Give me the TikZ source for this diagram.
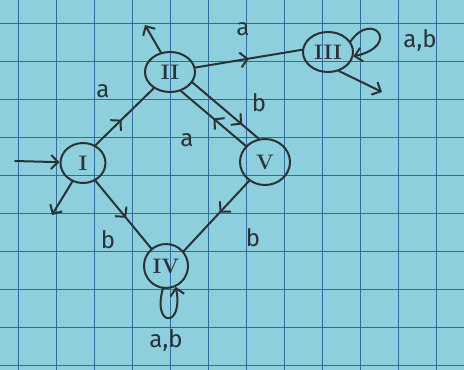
\documentclass[tikz,border=0pt]{standalone}
\usepackage{fontspec}
\newfontfamily\handfont{Fira Sans}
\usetikzlibrary{shapes.geometric,arrows.meta,decorations.markings}
\definecolor{paper}{HTML}{8DCFDD}
\definecolor{gridc}{HTML}{2F6D9E}
\definecolor{ink}{HTML}{2B3236}
\tikzset{
  ink/.style={draw=ink,line width=2pt,line cap=round,line join=round},
  state/.style={ellipse,ink,inner sep=0pt,font=\fontsize{21}{23}\selectfont\bfseries,text=ink},
  lab/.style={font=\handfont\fontsize{24}{26}\selectfont,text=ink,inner sep=0pt},
  tip/.style={-{Straight Barb[length=7pt,width=14pt,line width=2pt]}},
  midarrow/.style={postaction={decorate,decoration={markings,
      mark=at position #1 with {\arrow[ink,line width=2pt]{Straight Barb[length=7pt,width=15pt]}}}}}
}
\begin{document}
\begin{tikzpicture}[x=1pt,y=-1pt]
\useasboundingbox (0,0) rectangle (464,370);
\fill[paper] (0,0) rectangle (464,370);
\foreach \k in {0,...,11} {\draw[gridc,line width=1pt] (18+38*\k,0) -- (18+38*\k,370);}
\foreach \k in {0,...,9} {\draw[gridc,line width=1pt] (0,23.5+38*\k) -- (464,23.5+38*\k);}

\node[state,minimum width=45pt,minimum height=40pt] (I) at (83,163) {I};
\node[state,minimum width=50pt,minimum height=40pt] (II) at (170,72) {II};
\node[state,minimum width=50pt,minimum height=40pt] (III) at (328,52) {III};
\node[state,minimum width=50pt,minimum height=46pt] (V) at (265,162) {V};
\node[state,minimum width=44pt,minimum height=44pt] (IV) at (166,266) {IV};

\coordinate (s) at (15,161);
\coordinate (eII) at (145,25);
\coordinate (eI) at (52,215);
\coordinate (eIII) at (382,92);

\draw[ink,tip] (s) -- (I.178);
\draw[ink,tip] (II.115) -- (eII);
\draw[ink,tip] (I.240) -- (eI);
\draw[ink,tip] (III.300) -- (eIII);

\draw[ink,midarrow=0.45] (I.55) -- (II.225);
\draw[ink,midarrow=0.5] (II.10) -- (III.175);
\draw[ink,midarrow=0.75] (II.-25) -- (V.105);
\draw[ink,midarrow=0.5] (V.140) -- (II.-60);
\draw[ink,midarrow=0.55] (I.-55) -- (IV.130);
\draw[ink,midarrow=0.45] (V.230) -- (IV.40);

\draw[ink,tip] (III.25) .. controls (372,10) and (402,45) .. (III.-10);
\draw[ink,tip] (IV.262) .. controls (152,328) and (184,328) .. (IV.295);

\node[lab] (la1) at (103,91) {a};
\node[lab] (la2) at (243,29) {a};
\node[lab] (lb1) at (259,103) {b};
\node[lab] (la3) at (187,140) {a};
\node[lab] (lb2) at (108,240) {b};
\node[lab] (lb3) at (253,238) {b};
\node[lab] (lab1) at (420,40) {a,b};
\node[lab] (lab2) at (166,340) {a,b};
\end{tikzpicture}
\end{document}
